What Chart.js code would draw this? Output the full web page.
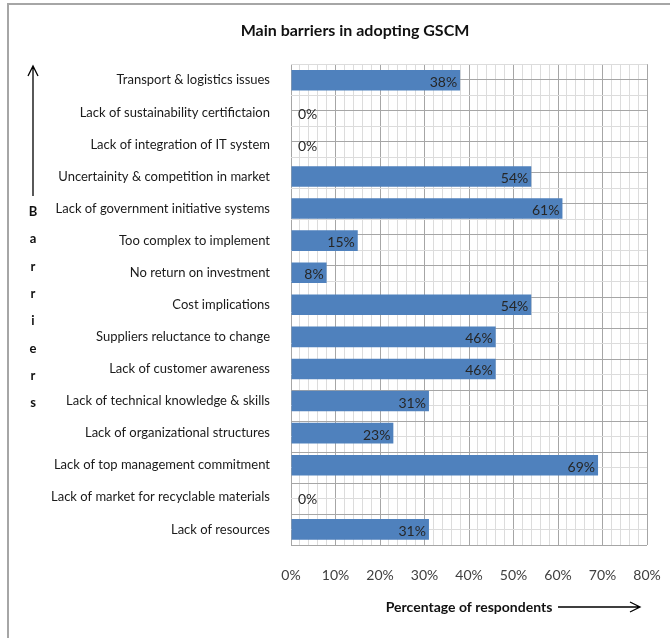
<!DOCTYPE html>
<html>
<head>
<meta charset="utf-8">
<script src="https://cdn.jsdelivr.net/npm/chart.js"></script>
<style>
  html, body { margin: 0; padding: 0; background: #fff; }
  #wrap { width: 670px; height: 638px; }
</style>
</head>
<body>
<div id="wrap"><canvas id="chart" width="670" height="638"></canvas></div>
<script>
// data
const barriers = [
  'Transport & logistics issues',
  'Lack of sustainability certifictaion',
  'Lack of integration of IT system',
  'Uncertainity & competition in market',
  'Lack of government initiative systems',
  'Too complex to implement',
  'No return on investment',
  'Cost implications',
  'Suppliers reluctance to change',
  'Lack of customer awareness',
  'Lack of technical knowledge & skills',
  'Lack of organizational structures',
  'Lack of top management commitment',
  'Lack of market for recyclable materials',
  'Lack of resources'
];
const respondents = [38, 0, 0, 54, 61, 15, 8, 54, 46, 46, 31, 23, 69, 0, 31];
const xTicks = [0, 10, 20, 30, 40, 50, 60, 70, 80];

const FONT = 'Lato, "Open Sans", sans-serif';
const yTitle = 'Barriers';

// frame, side letters, arrows and bar labels
const extras = {
  id: 'extras',
  beforeDraw(chart) {
    const ctx = chart.ctx;
    ctx.save();
    ctx.strokeStyle = '#a6a6a6';
    ctx.lineWidth = 2;
    ctx.beginPath();
    ctx.moveTo(8, 638); ctx.lineTo(8, 4); ctx.lineTo(670, 4);
    ctx.stroke();
    ctx.restore();
  },
  afterDatasetsDraw(chart) {
    const ctx = chart.ctx;
    const meta = chart.getDatasetMeta(0);
    ctx.save();
    ctx.font = '14px ' + FONT;
    ctx.fillStyle = '#262626';
    ctx.textBaseline = 'middle';
    meta.data.forEach((bar, i) => {
      const v = respondents[i];
      if (v > 0) {
        ctx.textAlign = 'right';
        ctx.fillText(v + '%', bar.x - 3, bar.y + 2);
      } else {
        ctx.textAlign = 'left';
        ctx.fillText(v + '%', bar.base + 7, bar.y + 2);
      }
    });
    ctx.restore();
  },
  afterDraw(chart) {
    const ctx = chart.ctx;
    ctx.save();
    ctx.strokeStyle = '#000';
    ctx.fillStyle = '#000';
    ctx.lineWidth = 1.3;
    // vertical arrow
    ctx.beginPath();
    ctx.moveTo(33, 196); ctx.lineTo(33, 66);
    ctx.moveTo(28, 76); ctx.lineTo(33, 66); ctx.lineTo(38, 76);
    ctx.stroke();
    // stacked letters
    ctx.font = 'bold 13px ' + FONT;
    ctx.textAlign = 'center';
    ctx.textBaseline = 'middle';
    ctx.fillStyle = '#111';
    yTitle.split('').forEach((c, i) => ctx.fillText(c, 33, 212 + i * 27.3));
    // horizontal arrow
    const y = 607;
    ctx.beginPath();
    ctx.moveTo(558, y); ctx.lineTo(639, y);
    ctx.moveTo(630, y - 5); ctx.lineTo(640, y); ctx.lineTo(630, y + 5);
    ctx.stroke();
    ctx.restore();
  }
};

new Chart(document.getElementById('chart'), {
  type: 'bar',
  data: {
    labels: barriers,
    datasets: [{
      data: respondents,
      backgroundColor: '#4f81bd',
      borderWidth: 0,
      barPercentage: 0.64,
      categoryPercentage: 1.0
    }]
  },
  options: {
    indexAxis: 'y',
    responsive: false,
    animation: false,
    layout: { padding: { left: 40, right: 0, top: 0, bottom: 2 } },
    plugins: {
      legend: { display: false },
      tooltip: { enabled: false },
      title: {
        display: true,
        text: 'Main barriers in adopting GSCM',
        color: '#111',
        font: { family: FONT, size: 16, weight: 'bold' },
        padding: { top: 21, bottom: 24 }
      }
    },
    scales: {
      x: {
        min: 0,
        max: 80,
        border: { display: false },
        afterFit: (s) => { s.paddingRight = 23; },
        ticks: {
          stepSize: 2,
          autoSkip: false,
          maxRotation: 0,
          padding: 22,
          color: '#404040',
          font: { family: FONT, size: 14 },
          callback: (v) => xTicks.includes(v) ? v + '%' : ''
        },
        grid: {
          drawTicks: false,
          lineWidth: 1,
          color: (c) => (c.tick && c.tick.value % 10 === 0) ? '#a6a6a6' : '#dcdcdc'
        },
        title: {
          display: true,
          text: 'Percentage of respondents',
          color: '#111',
          font: { family: FONT, size: 14, weight: 'bold' },
          padding: { top: -7, bottom: 20 }
        }
      },
      y: {
        border: { display: false },
        afterFit: (s) => { s.width = 251; },
        ticks: {
          padding: 13,
          color: '#1a1a1a',
          font: { family: FONT, size: 13 }
        },
        grid: { display: false }
      },
      y2: {
        type: 'linear',
        position: 'left',
        min: 0,
        max: 30,
        display: true,
        afterFit: (s) => { s.width = 0; },
        border: { display: false },
        ticks: { display: false, stepSize: 1 },
        grid: {
          drawTicks: false,
          color: (c) => (c.tick && c.tick.value % 2 === 0) ? '#a6a6a6' : '#dcdcdc'
        }
      }
    }
  },
  plugins: [extras]
});
</script>
</body>
</html>
